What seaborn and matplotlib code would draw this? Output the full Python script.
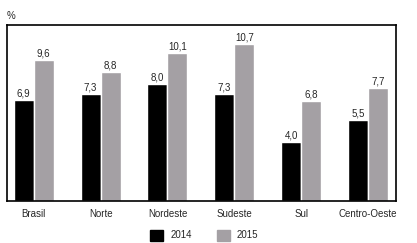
import matplotlib
matplotlib.use("Agg")
import matplotlib.pyplot as plt
import seaborn as sns
import pandas as pd

regioes = ["Brasil", "Norte", "Nordeste", "Sudeste", "Sul", "Centro-Oeste"]
v2014 = [6.9, 7.3, 8.0, 7.3, 4.0, 5.5]
v2015 = [9.6, 8.8, 10.1, 10.7, 6.8, 7.7]
anos = ["2014", "2015"]
cores = ["#000000", "#a4a0a4"]

df = pd.DataFrame({
    "regiao": regioes * 2,
    "ano": [anos[0]] * len(regioes) + [anos[1]] * len(regioes),
    "valor": v2014 + v2015,
})

sns.set_style("white")
plt.rcParams["font.family"] = ["Liberation Sans", "DejaVu Sans"]

fig = plt.figure(figsize=(4.17, 2.43), dpi=100)
ax = fig.add_axes([0.0168, 0.1728, 0.933, 0.724])

sns.barplot(data=df, x="regiao", y="valor", hue="ano", palette=cores,
            width=0.6, saturation=1, ax=ax, legend=False)

for cont in ax.containers:
    ax.bar_label(cont, labels=[f"{b.get_height():.1f}".replace(".", ",") for b in cont],
                 fontsize=7, padding=1)

ax.set_ylim(0, 12)
ax.set_xlim(-0.4, 5.42)
ax.set_xlabel("")
ax.set_ylabel("")
ax.set_yticks([])
ax.tick_params(axis="x", length=0, labelsize=7, pad=6)
for s in ax.spines.values():
    s.set_color("black")
    s.set_linewidth(1.2)

fig.text(0.017, 0.915, "%", fontsize=7, ha="left", va="bottom")

handles = [plt.Rectangle((0, 0), 1, 1, color=c) for c in cores]
fig.legend(handles, anos, loc="center", bbox_to_anchor=(0.49, 0.032), ncol=2,
           frameon=False, fontsize=7, handlelength=1.35, handleheight=1.35,
           handletextpad=0.7, columnspacing=2.6, borderaxespad=0)

fig.savefig("out.png", dpi=100)
